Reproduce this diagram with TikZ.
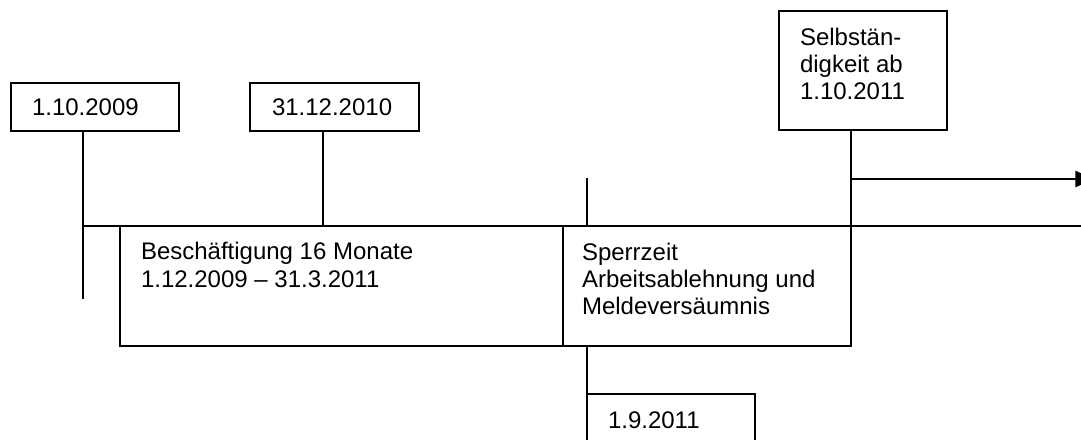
\documentclass[tikz,border=0pt]{standalone}
\usepackage{fontspec}
\setmainfont{Liberation Sans}
\usetikzlibrary{calc,arrows.meta}
\begin{document}
\begin{tikzpicture}[x=0.75pt,y=-0.75pt,
  line width=1.5pt,
  box/.style={draw, rectangle, anchor=north west, inner sep=0pt, outer sep=0pt},
  lbl/.style={anchor=base west, inner sep=0pt, font=\fontsize{18}{21}\selectfont}]
\useasboundingbox (0,0) rectangle (1081,439);
\clip (0,0) rectangle (1081,439);
% boxes
\node[box, minimum width=126pt, minimum height=36pt] (b1) at (11,83) {};
\node[box, minimum width=126.75pt, minimum height=36pt] (b2) at (250,83) {};
\node[box, minimum width=126pt, minimum height=89.25pt] (b3) at (779,11) {};
\node[box, minimum width=332.25pt, minimum height=90pt] (besch) at (120,226) {};
\node[box, minimum width=216pt, minimum height=90pt] (sperr) at (563,226) {};
\node[box, minimum width=126pt, minimum height=42pt] (b4) at (587,394) {};
% labels
\node[lbl] (t1) at (31,115) {1.10.2009};
\node[lbl] (t2) at (271,115) {31.12.2010};
\node[lbl] (t3a) at (799,45) {Selbstän-};
\node[lbl] (t3b) at (799,72) {digkeit ab};
\node[lbl] (t3c) at (799,99) {1.10.2011};
\node[lbl] (tba) at (140,259) {Beschäftigung 16 Monate};
\node[lbl] (tbb) at (140,287) {1.12.2009 – 31.3.2011};
\node[lbl] (tsa) at (581,260) {Sperrzeit};
\node[lbl] (tsb) at (581,287) {Arbeitsablehnung und};
\node[lbl] (tsc) at (581,314) {Meldeversäumnis};
\node[lbl] (t4) at (607,428) {1.9.2011};
% coordinates
\coordinate (c1top) at ($(b1.south west)+(72,0)$);
\coordinate (c1bot) at (83,299);
\coordinate (c1mid) at (83,226);
\coordinate (c2top) at ($(b2.south west)+(73,0)$);
\coordinate (c2bot) at (323,226);
\coordinate (lineend) at (1081,226);
\coordinate (sptop) at (587,178);
\coordinate (spbot) at (587,226);
\coordinate (c3top) at ($(b3.south west)+(72,0)$);
\coordinate (c3bot) at (851,226);
\coordinate (arrstart) at (851,179);
\coordinate (arrend) at (1094,179);
\coordinate (c4top) at (587,346);
% connectors
\draw (c1top) -- (c1bot);
\draw (c2top) -- (c2bot);
\draw (c1mid) -- (lineend);
\draw (sptop) -- (spbot);
\draw (c3top) -- (c3bot);
\draw[line width=2pt, -{Triangle[length=14pt,width=12pt]}] (arrstart) -- (arrend);
\draw (c4top) -- (b4.north west);
\end{tikzpicture}
\end{document}
